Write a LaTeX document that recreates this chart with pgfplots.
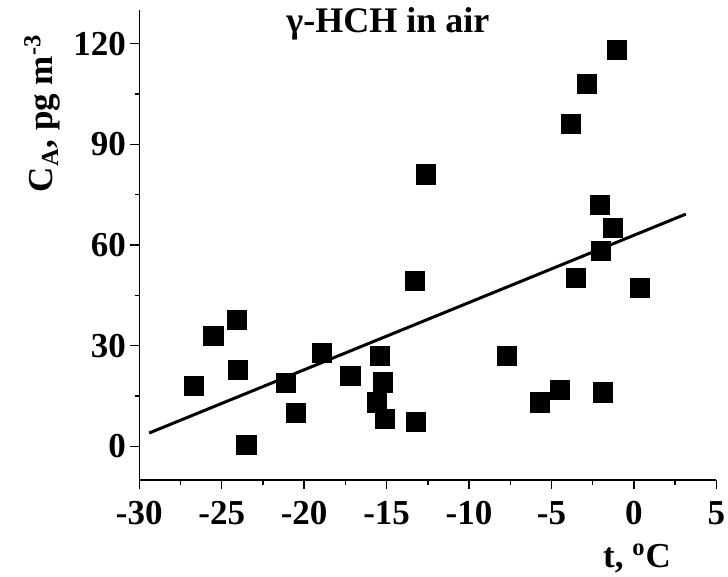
\documentclass[border=0pt]{standalone}
\usepackage{pgfplots}
\pgfplotsset{compat=1.18}
\usepackage{fontspec}
\setmainfont{Liberation Serif}
\begin{document}
\begin{tikzpicture}
\begin{axis}[
  scale only axis,
  width=288.5pt, height=235pt,
  xmin=-30, xmax=5, ymin=-10, ymax=130,
  axis x line=bottom, axis y line=left,
  axis line style={-, line width=0.7pt},
  xtick={-30,-25,-20,-15,-10,-5,0,5},
  xticklabels={-30,-25,-20,-15,-10,-5,0,5},
  ytick={0,30,60,90,120},
  yticklabels={0,30,60,90,120},
  minor x tick num=1, minor y tick num=1,
  tick align=outside,
  major tick length=4.5pt, minor tick length=2.3pt,
  tick style={line width=0.7pt, black},
  every tick label/.append style={font=\fontsize{17.5}{17.5}\selectfont\bfseries},
  xticklabel style={inner sep=2pt, yshift=-4pt},
  yticklabel style={inner sep=2pt},
  xlabel={t, \textsuperscript{o}C},
  ylabel={C\textsubscript{A}, pg m\textsuperscript{-3}},
  xlabel style={font=\fontsize{17.5}{17.5}\selectfont\bfseries, at={(rel axis cs:0.8626,-0.187)}, anchor=base},
  ylabel style={font=\fontsize{17.5}{17.5}\selectfont\bfseries, at={(rel axis cs:-0.1496,0.78)}, anchor=base, rotate=0},
  clip=false,
]
\addplot[only marks, mark=square*, mark size=4.8pt, black] coordinates {
(-26.7,18.1) (-25.5,32.9) (-24.1,37.7) (-24.0,22.9) (-23.5,0.5)
(-21.1,19.0) (-20.5,10.0) (-18.9,27.9) (-17.2,21.1) (-15.6,13.1)
(-15.4,27.0) (-15.2,19.1) (-15.1,8.2) (-13.2,7.2) (-13.3,49.2)
(-12.6,81.0) (-7.7,27.0) (-5.7,13.1) (-4.5,16.9) (-1.9,16.1)
(-3.5,50.2) (0.37,47.2) (-2.0,58.3) (-1.25,65.1) (-2.06,72.0)
(-3.8,96.1) (-2.83,108.1) (-1.03,118.0)
};
\addplot[black, line width=1.5pt] coordinates {(-29.4,4.0) (3.15,69.2)};
\node[anchor=base, font=\fontsize{18}{18}\selectfont\bfseries] at (axis cs:-14.92,123.3) {γ-HCH in air};
\end{axis}
\pgfresetboundingbox
\useasboundingbox (-69.65pt,-48.5pt) rectangle (294.35pt,240pt);
\end{tikzpicture}
\end{document}
